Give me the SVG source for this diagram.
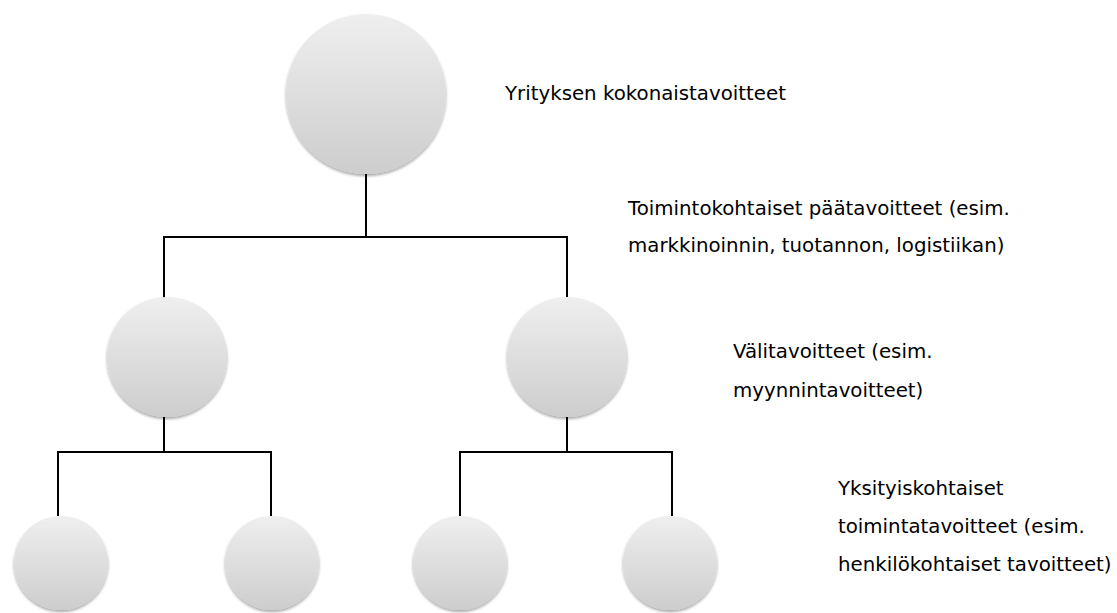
<svg xmlns="http://www.w3.org/2000/svg" width="1117" height="613" viewBox="0 0 1117 613">
<defs>
<linearGradient id="g" x1="0" y1="0" x2="0" y2="1">
<stop offset="0" stop-color="#efefef"/>
<stop offset="1" stop-color="#cdcdcd"/>
</linearGradient>
<filter id="sh" x="-20%" y="-20%" width="140%" height="140%">
<feGaussianBlur in="SourceAlpha" stdDeviation="1.5"/>
<feOffset dy="1.5" result="b"/>
<feComponentTransfer><feFuncA type="linear" slope="0.35"/></feComponentTransfer>
<feMerge><feMergeNode/><feMergeNode in="SourceGraphic"/></feMerge>
</filter>
<style>
.n{fill:url(#g);filter:url(#sh)}
.c{fill:none;stroke:#000;stroke-width:2}
.t{font-family:"DejaVu Sans",sans-serif;font-size:19.8px;fill:#000}
</style>
</defs>
<rect width="1117" height="613" fill="#fff"/>
<g id="connectors">
<path class="c" d="M366 173V237M164 298V237H567V298"/>
<path class="c" d="M164 417V452M58 516V452H271V516"/>
<path class="c" d="M567 417V452M460 516V452H672V516"/>
</g>
<g id="n0"><circle class="n" cx="366" cy="94" r="80"/></g>
<g id="n1"><circle class="n" cx="167" cy="357" r="60"/></g>
<g id="n2"><circle class="n" cx="567" cy="357" r="60"/></g>
<g id="n3"><circle class="n" cx="61" cy="563" r="47"/></g>
<g id="n4"><circle class="n" cx="272" cy="563" r="47"/></g>
<g id="n5"><circle class="n" cx="460" cy="563" r="47"/></g>
<g id="n6"><circle class="n" cx="670" cy="563" r="47"/></g>
<g id="labels">
<text class="t" x="505" y="100">Yrityksen kokonaistavoitteet</text>
<text class="t" x="628" y="215">Toimintokohtaiset päätavoitteet (esim.</text>
<text class="t" x="628" y="252">markkinoinnin, tuotannon, logistiikan)</text>
<text class="t" x="733" y="358">Välitavoitteet (esim.</text>
<text class="t" x="733" y="397">myynnintavoitteet)</text>
<text class="t" x="838" y="495">Yksityiskohtaiset</text>
<text class="t" x="838" y="533">toimintatavoitteet (esim.</text>
<text class="t" x="838" y="571">henkilökohtaiset tavoitteet)</text>
</g>
</svg>
